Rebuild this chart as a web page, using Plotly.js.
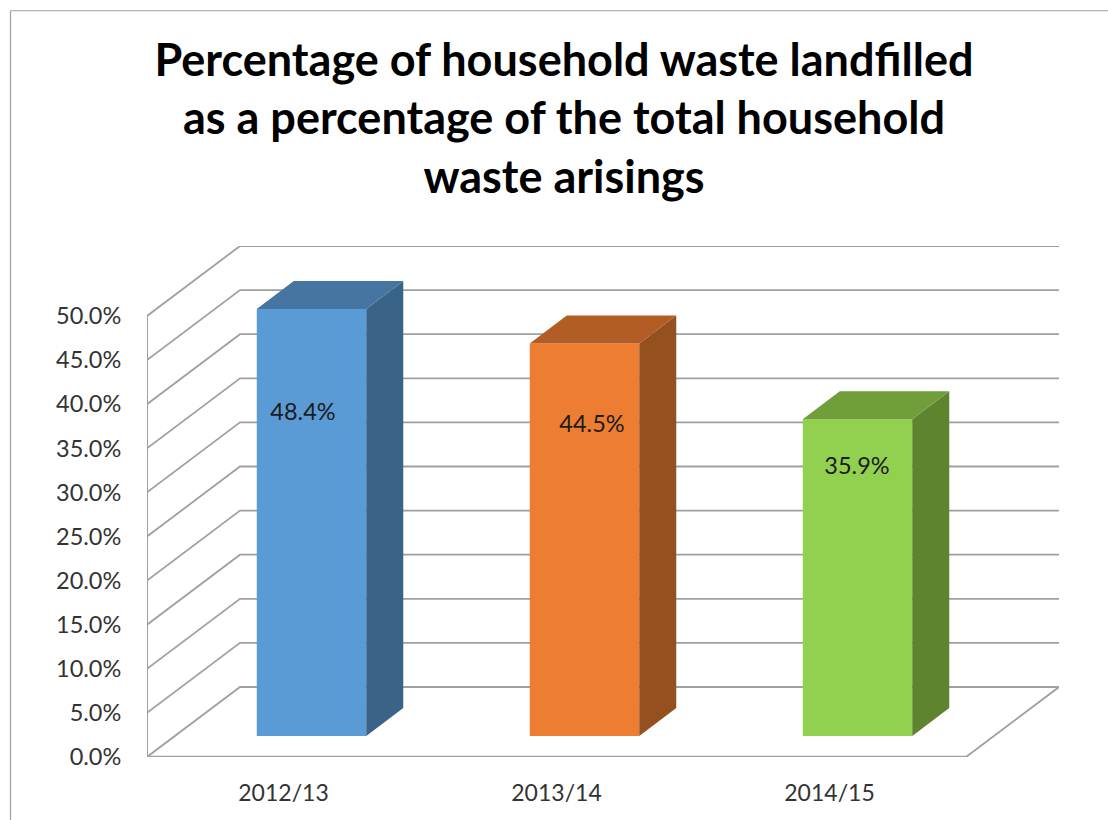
<!DOCTYPE html>
<html>
<head>
<meta charset="utf-8">
<script src="https://cdn.plot.ly/plotly-3.0.1.min.js"></script>
<style>html,body{margin:0;padding:0;background:#fff}#chart{width:1108px;height:820px}</style>
</head>
<body>
<div id="chart"></div>
<script>
// ---- data ----
const categories = ['2012/13', '2013/14', '2014/15'];
const landfilledPct = [48.4, 44.5, 35.9];
const valueLabels = ['48.4%', '44.5%', '35.9%'];
const gridValues = [0, 5, 10, 15, 20, 25, 30, 35, 40, 45, 50];
const gridLabels = ['0.0%', '5.0%', '10.0%', '15.0%', '20.0%', '25.0%', '30.0%', '35.0%', '40.0%', '45.0%', '50.0%'];
const chartTitle = 'Percentage of household waste landfilled<br>as a percentage of the total household<br>waste arisings';

// ---- styles and layout ----
const frontColors = ['#5B9BD5', '#ED7D31', '#92D050'];
const sideColors = ['#3A6487', '#94501F', '#5E8430'];
const topColors = ['#4675A1', '#B25D25', '#6F9E3B'];
const gridColor = '#a0a0a0';
const fontFamily = 'Lato, Carlito, sans-serif';

const W = 1108, H = 820;
const plotL = 147, plotR = 1059, plotT = 245.5, plotB = 757;
const catPx = (966 - 147) / 3;           // pixels per category
const pctPx = 8.82;                      // pixels per percent
const wallDX = 93 / catPx, wallDY = 70 / pctPx;   // depth of the floor
const barDX = 37 / catPx, barDY = 28 / pctPx;     // depth of a bar
const barShiftX = 28 / catPx, barShiftY = 21 / pctPx; // bar set-back from the front edge
const barWidth = 109.5 / catPx;
const labelOffsetX = [-8.5 / catPx, 7.5 / catPx, -0.5 / catPx];
const labelOffsetY = [-9.5, -6.94, -3.2];

const traces = [];
const noHover = {hoverinfo: 'skip', showlegend: false};

// gridlines sit below every trace, as data-space shapes built from gridValues
const pathOf = (xs, ys) => xs.map((x, i) => (i ? 'L' : 'M') + x + ' ' + ys[i]).join(' ');
const gridShapes = gridValues.map(v => {
  const isFloor = v === 0;
  const xsLine = [-0.5, -0.5 + wallDX, 2.5 + wallDX].concat(isFloor ? [2.5, -0.5] : []);
  const ysLine = [v, v + wallDY, v + wallDY].concat(isFloor ? [v, v] : []);
  return {type: 'path', xref: 'x', yref: 'y', layer: 'below',
          path: pathOf(xsLine, ysLine), line: {color: gridColor, width: 1.8}};
});
gridShapes.push({type: 'line', xref: 'x', yref: 'y', layer: 'below',
  x0: -0.5, x1: -0.5, y0: gridValues[0], y1: gridValues[gridValues.length - 1],
  line: {color: gridColor, width: 2}});
gridShapes.push({type: 'line', xref: 'x', yref: 'y', layer: 'below',
  x0: -0.5, x1: 2.5, y0: gridValues[0], y1: gridValues[0],
  line: {color: gridColor, width: 2.4}});

const xs = categories.map((_, i) => i + barShiftX);

// front faces
traces.push({
  type: 'bar',
  x: xs,
  y: landfilledPct,
  base: landfilledPct.map(() => barShiftY),
  width: barWidth,
  marker: {color: frontColors, line: {width: 0}},
  hovertext: categories, hoverinfo: 'text+y',
  showlegend: false
});

// side and top faces, derived from the values
landfilledPct.forEach((v, i) => {
  const r = xs[i] + barWidth / 2, l = xs[i] - barWidth / 2;
  const t = v + barShiftY, b = barShiftY;
  traces.push(Object.assign({
    type: 'scatter', mode: 'lines', fill: 'toself', fillcolor: sideColors[i],
    x: [r, r + barDX, r + barDX, r, r],
    y: [b, b + barDY, t + barDY, t, b],
    line: {width: 0, color: sideColors[i]}
  }, noHover));
  traces.push(Object.assign({
    type: 'scatter', mode: 'lines', fill: 'toself', fillcolor: topColors[i],
    x: [l, l + barDX, r + barDX, r, l],
    y: [t, t + barDY, t + barDY, t, t],
    line: {width: 0, color: topColors[i]}
  }, noHover));
});

// data labels
traces.push(Object.assign({
  type: 'scatter', mode: 'text',
  x: xs.map((x, i) => x + labelOffsetX[i]),
  y: landfilledPct.map((v, i) => v + labelOffsetY[i]),
  text: valueLabels,
  textposition: 'middle center',
  textfont: {family: fontFamily, size: 23.5, color: '#1c1c1c'}
}, noHover));

const frameX = (10.5 - plotL) / (plotR - plotL);
const frameTop = (plotB - 10) / (plotB - plotT);
const frameBottom = (plotB - H) / (plotB - plotT);
const frameRight = (W - plotL) / (plotR - plotL);

const layout = {
  width: W, height: H,
  margin: {l: plotL, r: W - plotR, t: plotT, b: H - plotB, pad: 0},
  paper_bgcolor: '#fff', plot_bgcolor: 'rgba(0,0,0,0)',
  showlegend: false,
  title: {
    text: chartTitle,
    font: {family: fontFamily, size: 45, color: '#000', weight: 700},
    x: 564 / W, xref: 'container', xanchor: 'center',
    y: 1 - 75.5 / H, yref: 'container', yanchor: 'top'
  },
  xaxis: {
    range: [-0.5, 2.5 + wallDX], showgrid: false, zeroline: false, showline: false,
    tickmode: 'array', tickvals: categories.map((_, i) => i), ticktext: categories,
    ticks: 'outside', ticklen: 15, tickcolor: 'rgba(0,0,0,0)',
    tickfont: {family: fontFamily, size: 23, color: '#333'}
  },
  yaxis: {
    range: [0, 50 + wallDY], showgrid: false, zeroline: false, showline: false,
    tickmode: 'array', tickvals: gridValues, ticktext: gridLabels,
    ticks: 'outside', ticklen: 20, tickcolor: 'rgba(0,0,0,0)',
    tickfont: {family: fontFamily, size: 23.5, color: '#333'}
  },
  shapes: gridShapes.concat([
    {type: 'line', xref: 'paper', yref: 'paper',
     x0: frameX, x1: frameRight, y0: frameTop, y1: frameTop,
     line: {color: '#a0a0a0', width: 1.2}},
    {type: 'line', xref: 'paper', yref: 'paper',
     x0: frameX, x1: frameX, y0: frameTop, y1: frameBottom,
     line: {color: '#a0a0a0', width: 1.2}}
  ])
};
Plotly.newPlot('chart', traces, layout, {displayModeBar: false, responsive: false});
</script>
</body>
</html>
